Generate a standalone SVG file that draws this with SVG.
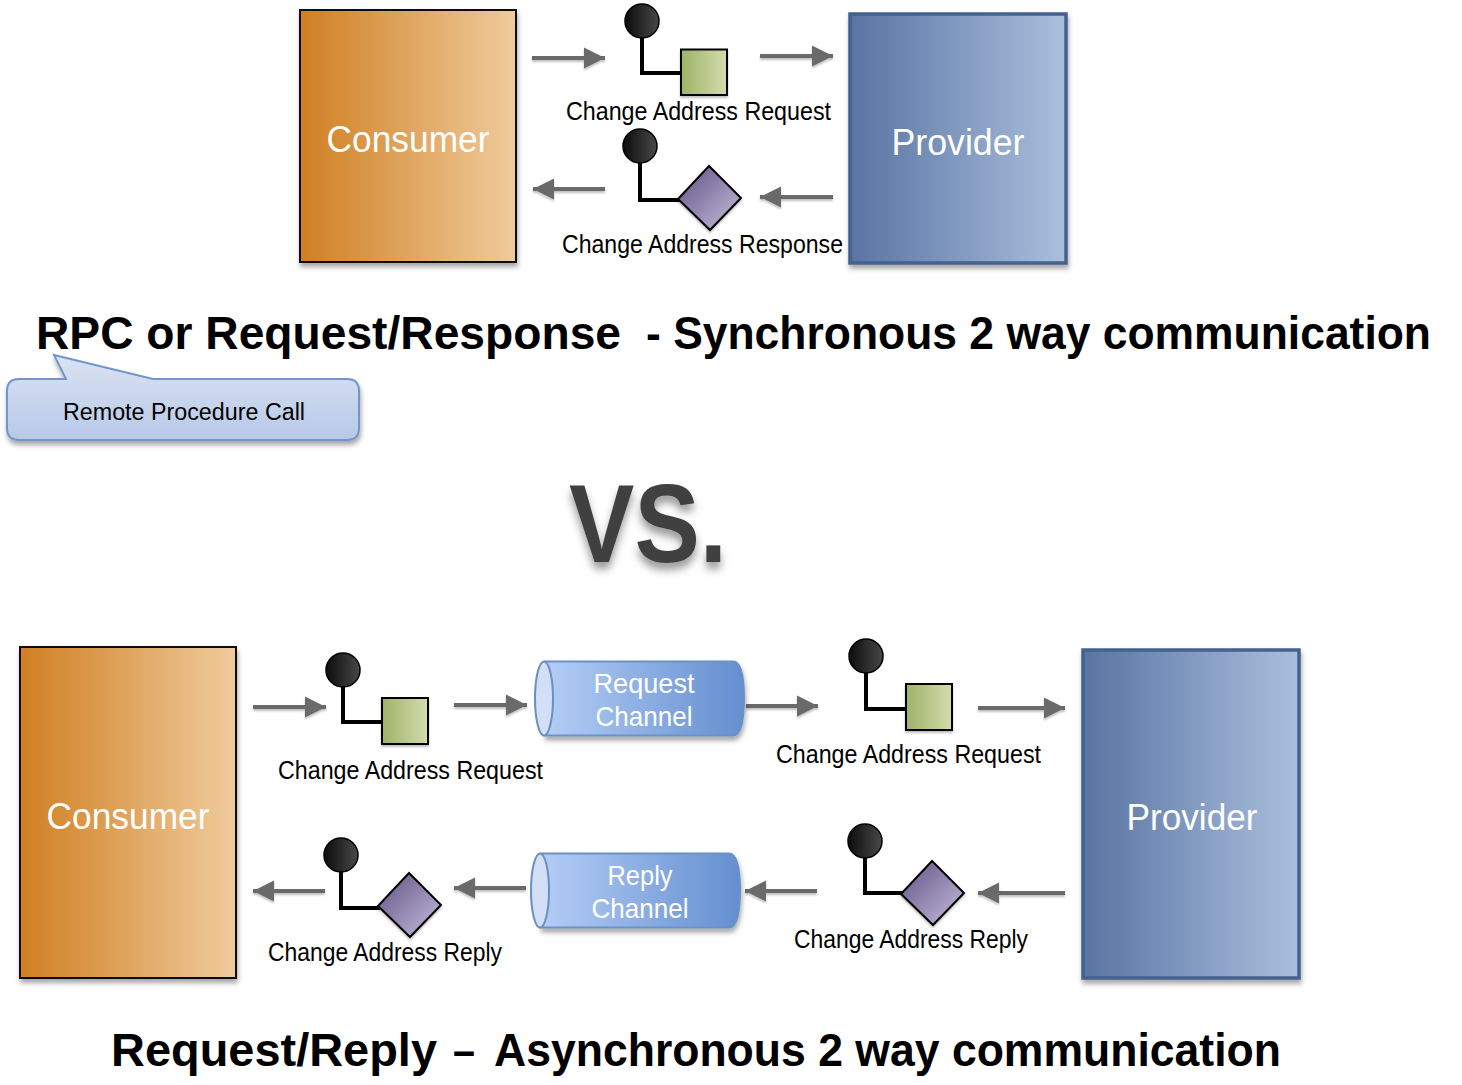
<svg xmlns="http://www.w3.org/2000/svg" width="1462" height="1085" viewBox="0 0 1462 1085">
<style>
text{font-family:"Liberation Sans",Arial,sans-serif;text-anchor:middle}
.lbl{font-size:25px;fill:#000}
.title{font-size:45.500px;font-weight:bold;fill:#000;text-anchor:start}
.big{font-size:36px;fill:#fff}
.ch{font-size:28px;fill:#fff}
.con{fill:url(#gc);stroke:#111;stroke-width:2;filter:url(#sh)}
.pro{fill:url(#gp);stroke:#45628e;stroke-width:3.500;filter:url(#sh)}
.stem{fill:none;stroke:#000;stroke-width:4}
.ball{fill:url(#gb);stroke:#000;stroke-width:1.5}
.sq{fill:url(#gs);stroke:#000;stroke-width:2;filter:url(#sh2)}
.dia{fill:url(#gd);stroke:#000;stroke-width:2;filter:url(#sh2)}
.arrow{stroke:#6b6b6b;stroke-width:4;fill:none;marker-end:url(#ah)}
.body{fill:url(#gch);stroke:#6a92c8;stroke-width:2;filter:url(#sh)}
.end{fill:#d2dff6;stroke:#6a8fc0;stroke-width:2}
</style>
<defs>
<linearGradient id="gc"><stop offset="0" stop-color="#d17f22"/><stop offset="1" stop-color="#efcb9c"/></linearGradient>
<linearGradient id="gp"><stop offset="0" stop-color="#5874a2"/><stop offset="1" stop-color="#abbfdd"/></linearGradient>
<linearGradient id="gb"><stop offset="0" stop-color="#0c0c0c"/><stop offset="1" stop-color="#484848"/></linearGradient>
<linearGradient id="gs"><stop offset="0" stop-color="#9fb268"/><stop offset="1" stop-color="#d3dcae"/></linearGradient>
<linearGradient id="gd" x1="0" y1="0" x2="1" y2="1"><stop offset="0.1" stop-color="#6a5c8e"/><stop offset="0.9" stop-color="#bdb4d4"/></linearGradient>
<linearGradient id="gch"><stop offset="0" stop-color="#b4cdf6"/><stop offset="1" stop-color="#648fcf"/></linearGradient>
<linearGradient id="gcall" x1="0" y1="0" x2="0" y2="1"><stop offset="0" stop-color="#dbe3f2"/><stop offset="1" stop-color="#b7c9e8"/></linearGradient>
<filter id="sh" x="-10%" y="-10%" width="125%" height="125%"><feDropShadow dx="1" dy="4" stdDeviation="2.5" flood-color="#000" flood-opacity="0.35"/></filter>
<filter id="sh2" x="-20%" y="-40%" width="140%" height="200%"><feDropShadow dx="0" dy="2" stdDeviation="1.2" flood-color="#000" flood-opacity="0.25"/></filter>
<filter id="sh3" x="-10%" y="-10%" width="125%" height="130%"><feDropShadow dx="0" dy="7" stdDeviation="4" flood-color="#000" flood-opacity="0.4"/></filter>
<filter id="sh4" filterUnits="userSpaceOnUse" x="0" y="0" width="1462" height="1085"><feDropShadow dx="0" dy="2" stdDeviation="1.2" flood-color="#000" flood-opacity="0.25"/></filter>
<marker id="ah" markerUnits="userSpaceOnUse" markerWidth="24" markerHeight="24" refX="21" refY="12" orient="auto"><path d="M0 1.500L21 12L0 22.500Z" fill="#6b6b6b"/></marker>
</defs>

<g id="connectors" filter="url(#sh4)">
<path class="arrow" d="M532 58H605"/>
<path class="arrow" d="M760 56H833"/>
<path class="arrow" d="M605 189H533"/>
<path class="arrow" d="M833 197H760"/>
<path class="arrow" d="M253 707H326"/>
<path class="arrow" d="M454 705H527"/>
<path class="arrow" d="M746 706H818"/>
<path class="arrow" d="M978 708H1065"/>
<path class="arrow" d="M1065 893H978"/>
<path class="arrow" d="M817 891H745"/>
<path class="arrow" d="M526 888H454"/>
<path class="arrow" d="M325 891H253"/>
</g>

<g id="consumer-top"><rect class="con" x="300" y="10" width="216" height="252"/><text class="big" x="408" y="152" textLength="163" lengthAdjust="spacingAndGlyphs">Consumer</text></g>
<g id="provider-top"><rect class="pro" x="850" y="14" width="216" height="249"/><text class="big" x="958" y="155" textLength="133" lengthAdjust="spacingAndGlyphs">Provider</text></g>

<g id="msg-request-top">
<path class="stem" d="M642 35V73H681"/><circle class="ball" cx="642" cy="21" r="17"/><rect class="sq" x="681" y="49.500" width="46" height="45.500"/>
<text class="lbl" x="698.500" y="120" textLength="265" lengthAdjust="spacingAndGlyphs">Change Address Request</text>
</g>
<g id="msg-response-top">
<path class="stem" d="M640 160V200H680"/><circle class="ball" cx="640" cy="146" r="17"/><path class="dia" d="M709 166L741 198L710 230L678 199Z"/>
<text class="lbl" x="702.500" y="253" textLength="281" lengthAdjust="spacingAndGlyphs">Change Address Response</text>
</g>

<text id="title-top" class="title" y="349"><tspan x="36" textLength="585" lengthAdjust="spacingAndGlyphs">RPC or Request/Response</tspan> <tspan x="646" textLength="785" lengthAdjust="spacingAndGlyphs">- Synchronous 2 way communication</tspan></text>

<g id="callout">
<path d="M19 379H66L54 355L153 379H347Q359 379 359 391V428Q359 440 347 440H19Q7 440 7 428V391Q7 379 19 379Z" fill="url(#gcall)" stroke="#7197c8" stroke-width="2" filter="url(#sh)"/>
<text x="184" y="420" font-size="23" fill="#000" textLength="242" lengthAdjust="spacingAndGlyphs">Remote Procedure Call</text>
</g>

<text id="vs" x="648" y="562" font-size="112" font-weight="bold" fill="#404040" textLength="158" lengthAdjust="spacingAndGlyphs" filter="url(#sh3)">VS.</text>

<g id="consumer-bottom"><rect class="con" x="20" y="647" width="216" height="331"/><text class="big" x="128" y="829" textLength="163" lengthAdjust="spacingAndGlyphs">Consumer</text></g>
<g id="provider-bottom"><rect class="pro" x="1083" y="650" width="216" height="328"/><text class="big" x="1192" y="830" textLength="131" lengthAdjust="spacingAndGlyphs">Provider</text></g>

<g id="msg-request-b1">
<path class="stem" d="M343 684V722H382"/><circle class="ball" cx="343" cy="670" r="17"/><rect class="sq" x="382" y="698" width="46" height="46"/>
<text class="lbl" x="410.500" y="779" textLength="265" lengthAdjust="spacingAndGlyphs">Change Address Request</text>
</g>
<g id="request-channel">
<path class="body" d="M545 661.500H733Q744 661.500 744 698.500Q744 735.500 733 735.500H545Z"/>
<ellipse class="end" cx="544" cy="698.500" rx="9" ry="37"/>
<text class="ch" x="644" y="693" textLength="101" lengthAdjust="spacingAndGlyphs">Request</text>
<text class="ch" x="644" y="726" textLength="97" lengthAdjust="spacingAndGlyphs">Channel</text>
</g>
<g id="msg-request-b2">
<path class="stem" d="M866 670V709H906"/><circle class="ball" cx="866" cy="656" r="17"/><rect class="sq" x="906" y="684" width="46" height="46"/>
<text class="lbl" x="908.500" y="763" textLength="265" lengthAdjust="spacingAndGlyphs">Change Address Request</text>
</g>
<g id="msg-reply-b2">
<path class="stem" d="M865 855V893H903"/><circle class="ball" cx="865" cy="841" r="17"/><path class="dia" d="M932 861L964 893L933 925L901 894Z"/>
<text class="lbl" x="911" y="948" textLength="234" lengthAdjust="spacingAndGlyphs">Change Address Reply</text>
</g>
<g id="reply-channel">
<path class="body" d="M541 853.500H729Q740 853.500 740 890.500Q740 927.500 729 927.500H541Z"/>
<ellipse class="end" cx="540" cy="890.500" rx="9" ry="37"/>
<text class="ch" x="640" y="885" textLength="65" lengthAdjust="spacingAndGlyphs">Reply</text>
<text class="ch" x="640" y="918" textLength="97" lengthAdjust="spacingAndGlyphs">Channel</text>
</g>
<g id="msg-reply-b1">
<path class="stem" d="M341 869V908H380"/><circle class="ball" cx="341" cy="855" r="17"/><path class="dia" d="M409 873L441 905L410 937L378 906Z"/>
<text class="lbl" x="385" y="961" textLength="234" lengthAdjust="spacingAndGlyphs">Change Address Reply</text>
</g>

<text id="title-bottom" class="title" y="1066"><tspan x="111" textLength="326" lengthAdjust="spacingAndGlyphs">Request/Reply</tspan> <tspan x="453" textLength="22" lengthAdjust="spacingAndGlyphs">–</tspan> <tspan x="494" textLength="787" lengthAdjust="spacingAndGlyphs">Asynchronous 2 way communication</tspan></text>
</svg>
